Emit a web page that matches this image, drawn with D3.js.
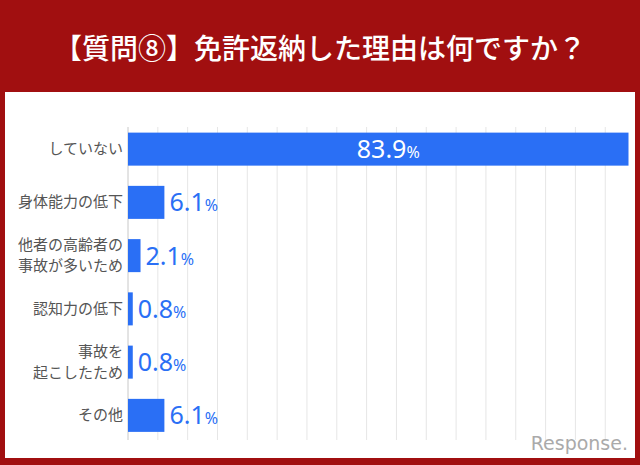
<!DOCTYPE html><html><head><meta charset="utf-8"><script src="https://cdn.jsdelivr.net/npm/d3@7"></script>
<style>body{margin:0}svg{display:block}</style></head><body><svg width="640" height="465"></svg><script>
const categories=[["していない"],["身体能力の低下"],["他者の高齢者の","事故が多いため"],["認知力の低下"],["事故を","起こしたため"],["その他"]];
const values=[83.9,6.1,2.1,0.8,0.8,6.1];
const gridTicks=d3.range(5,85,5);
const title="【質問⑧】免許返納した理由は何ですか？";
const svg=d3.select("svg");
const F="'Noto Sans CJK JP',sans-serif";
svg.append("rect").attr("width",640).attr("height",465).attr("fill","#a10f10");
svg.append("rect").attr("x",5).attr("y",92).attr("width",630).attr("height",366).attr("fill","#fff");
svg.append("text").attr("x",320).attr("y",59).attr("text-anchor","middle").attr("fill","#fff").attr("font-family",F).attr("font-size",28).attr("font-weight",500).text(title);
const x=d3.scaleLinear().domain([0,83.9]).range([128,628.5]);
const y=d3.scaleBand().domain(d3.range(6)).range([122.5,442]).paddingInner(0.38).paddingOuter(0.19);
svg.append("g").selectAll("line").data(gridTicks).join("line").attr("x1",d=>x(d)).attr("x2",d=>x(d)).attr("y1",127).attr("y2",440).attr("stroke","#e6e6e6");
svg.append("line").attr("x1",128).attr("x2",128).attr("y1",127).attr("y2",440).attr("stroke","#c8c8c8");
svg.selectAll(".b").data(values).join("rect").attr("x",x(0)).attr("y",(d,i)=>y(i)).attr("height",y.bandwidth()).attr("width",d=>x(d)-x(0)).attr("fill","#2a6ff5");
categories.forEach((c,i)=>{const cy=y(i)+y.bandwidth()/2;const t=svg.append("text").attr("text-anchor","end").attr("font-family",F).attr("font-size",15).attr("fill","#555");
c.forEach((l,j)=>t.append("tspan").attr("x",123).attr("y",cy+5+(j-(c.length-1)/2)*21).text(l));});
values.forEach((v,i)=>{const cy=y(i)+y.bandwidth()/2;const inside=i===0;
const t=svg.append("text").attr("x",inside?x(v/2)+10:x(v)+5).attr("y",cy+9).attr("text-anchor",inside?"middle":"start").attr("font-family","'Noto Sans',sans-serif").attr("fill",inside?"#fff":"#2a6ff5");
t.append("tspan").attr("font-size",25).text(v.toFixed(1));t.append("tspan").attr("font-size",16).text("%");});
svg.append("text").attr("x",628).attr("y",450).attr("text-anchor","end").attr("font-family","Verdana,'DejaVu Sans',sans-serif").attr("font-size",19).attr("fill","#aaa").text("Response.");
</script></body></html>
